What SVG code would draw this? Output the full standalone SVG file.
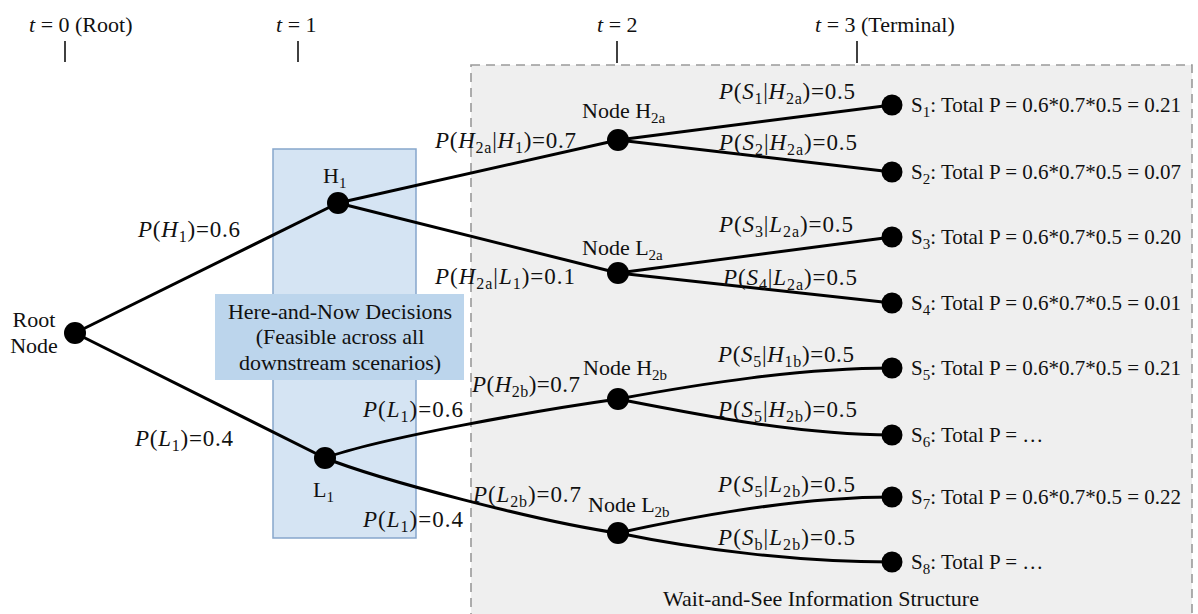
<svg xmlns="http://www.w3.org/2000/svg" width="1198" height="614" viewBox="0 0 1198 614">
<style>
.t{font-family:"Liberation Serif","Times New Roman",serif;fill:#111;font-size:22px}
.s21{font-size:21px}
.m{font-size:23px}
.i{font-style:italic}
.sub{font-size:15px}
.m .sub{font-size:16px}
.e{stroke:#000;stroke-width:3;fill:none}
.tick{stroke:#111;stroke-width:1.6}
.dot{fill:#000}
</style>
<rect width="1198" height="614" fill="#ffffff"/>
<g id="wait-and-see-region">
<rect x="471" y="65" width="721" height="570" fill="#efefef" stroke="#9a9a9a" stroke-width="1.6" stroke-dasharray="9 6"/>
<text class="t" x="663" y="606">Wait-and-See Information Structure</text>
</g>
<g id="here-and-now-column">
<rect x="273" y="149" width="143" height="389" fill="#d5e4f3" stroke="#86a6cc" stroke-width="1.5"/>
</g>
<g id="time-axis">
<text class="t" x="29" y="32"><tspan class="i">t</tspan> = 0 (Root)</text>
<text class="t" x="276" y="32"><tspan class="i">t</tspan> = 1</text>
<text class="t" x="597" y="32"><tspan class="i">t</tspan> = 2</text>
<text class="t" x="815" y="32"><tspan class="i">t</tspan> = 3 (Terminal)</text>
<line class="tick" x1="65" y1="41" x2="65" y2="62"/>
<line class="tick" x1="298" y1="41" x2="298" y2="62"/>
<line class="tick" x1="617" y1="41" x2="617" y2="63"/>
<line class="tick" x1="857" y1="41" x2="857" y2="63"/>
</g>
<g id="connectors">
<path class="e" d="M75 333 L338 203"/>
<path class="e" d="M75 333 L325 458"/>
<path class="e" d="M338 203 L618 140"/>
<path class="e" d="M338 203 L618 273"/>
<path class="e" d="M325 458 C380 438 540 410 618 399"/>
<path class="e" d="M325 458 C380 480 540 522 618 533"/>
<path class="e" d="M618 140 L892 105"/>
<path class="e" d="M618 140 L892 172"/>
<path class="e" d="M618 273 L892 237"/>
<path class="e" d="M618 273 L892 303"/>
<path class="e" d="M618 399 C700 384 800 368 892 368"/>
<path class="e" d="M618 399 C700 415 800 435 892 435"/>
<path class="e" d="M618 533 C700 515 800 497 892 497"/>
<path class="e" d="M618 533 C700 550 800 562 892 562"/>
</g>
<g id="edge-labels">
<text class="t m" x="138" y="237" textLength="102" lengthAdjust="spacing"><tspan class="i">P</tspan>(<tspan class="i">H</tspan><tspan class="sub" dy="5">1</tspan><tspan dy="-5">)=0.6</tspan></text>
<text class="t m" x="135" y="446" textLength="98" lengthAdjust="spacing"><tspan class="i">P</tspan>(<tspan class="i">L</tspan><tspan class="sub" dy="5">1</tspan><tspan dy="-5">)=0.4</tspan></text>
<text class="t m" x="435" y="148" textLength="141" lengthAdjust="spacing"><tspan class="i">P</tspan>(<tspan class="i">H</tspan><tspan class="sub" dy="5">2a</tspan><tspan dy="-5">|</tspan><tspan class="i">H</tspan><tspan class="sub" dy="5">1</tspan><tspan dy="-5">)=0.7</tspan></text>
<text class="t m" x="435" y="284" textLength="140" lengthAdjust="spacing"><tspan class="i">P</tspan>(<tspan class="i">H</tspan><tspan class="sub" dy="5">2a</tspan><tspan dy="-5">|</tspan><tspan class="i">L</tspan><tspan class="sub" dy="5">1</tspan><tspan dy="-5">)=0.1</tspan></text>
<text class="t m" x="719" y="99" textLength="136" lengthAdjust="spacing"><tspan class="i">P</tspan>(<tspan class="i">S</tspan><tspan class="sub" dy="5">1</tspan><tspan dy="-5">|</tspan><tspan class="i">H</tspan><tspan class="sub" dy="5">2a</tspan><tspan dy="-5">)=0.5</tspan></text>
<text class="t m" x="719" y="150" textLength="138" lengthAdjust="spacing"><tspan class="i">P</tspan>(<tspan class="i">S</tspan><tspan class="sub" dy="5">2</tspan><tspan dy="-5">|</tspan><tspan class="i">H</tspan><tspan class="sub" dy="5">2a</tspan><tspan dy="-5">)=0.5</tspan></text>
<text class="t m" x="719" y="232" textLength="134" lengthAdjust="spacing"><tspan class="i">P</tspan>(<tspan class="i">S</tspan><tspan class="sub" dy="5">3</tspan><tspan dy="-5">|</tspan><tspan class="i">L</tspan><tspan class="sub" dy="5">2a</tspan><tspan dy="-5">)=0.5</tspan></text>
<text class="t m" x="723" y="285" textLength="134" lengthAdjust="spacing"><tspan class="i">P</tspan>(<tspan class="i">S</tspan><tspan class="sub" dy="5">4</tspan><tspan dy="-5">|</tspan><tspan class="i">L</tspan><tspan class="sub" dy="5">2a</tspan><tspan dy="-5">)=0.5</tspan></text>
<text class="t m" x="472" y="392" textLength="108" lengthAdjust="spacing"><tspan class="i">P</tspan>(<tspan class="i">H</tspan><tspan class="sub" dy="5">2b</tspan><tspan dy="-5">)=0.7</tspan></text>
<text class="t m" x="363" y="417" textLength="100" lengthAdjust="spacing"><tspan class="i">P</tspan>(<tspan class="i">L</tspan><tspan class="sub" dy="5">1</tspan><tspan dy="-5">)=0.6</tspan></text>
<text class="t m" x="363" y="527" textLength="100" lengthAdjust="spacing"><tspan class="i">P</tspan>(<tspan class="i">L</tspan><tspan class="sub" dy="5">1</tspan><tspan dy="-5">)=0.4</tspan></text>
<text class="t m" x="473" y="502" textLength="108" lengthAdjust="spacing"><tspan class="i">P</tspan>(<tspan class="i">L</tspan><tspan class="sub" dy="5">2b</tspan><tspan dy="-5">)=0.7</tspan></text>
<text class="t m" x="718" y="362" textLength="136" lengthAdjust="spacing"><tspan class="i">P</tspan>(<tspan class="i">S</tspan><tspan class="sub" dy="5">5</tspan><tspan dy="-5">|</tspan><tspan class="i">H</tspan><tspan class="sub" dy="5">1b</tspan><tspan dy="-5">)=0.5</tspan></text>
<text class="t m" x="718" y="417" textLength="139" lengthAdjust="spacing"><tspan class="i">P</tspan>(<tspan class="i">S</tspan><tspan class="sub" dy="5">5</tspan><tspan dy="-5">|</tspan><tspan class="i">H</tspan><tspan class="sub" dy="5">2b</tspan><tspan dy="-5">)=0.5</tspan></text>
<text class="t m" x="718" y="492" textLength="137" lengthAdjust="spacing"><tspan class="i">P</tspan>(<tspan class="i">S</tspan><tspan class="sub" dy="5">5</tspan><tspan dy="-5">|</tspan><tspan class="i">L</tspan><tspan class="sub" dy="5">2b</tspan><tspan dy="-5">)=0.5</tspan></text>
<text class="t m" x="718" y="545" textLength="137" lengthAdjust="spacing"><tspan class="i">P</tspan>(<tspan class="i">S</tspan><tspan class="sub" dy="5">b</tspan><tspan dy="-5">|</tspan><tspan class="i">L</tspan><tspan class="sub" dy="5">2b</tspan><tspan dy="-5">)=0.5</tspan></text>
</g>
<g id="here-and-now-label">
<rect x="215" y="294" width="249" height="86" fill="#bcd5ec"/>
<text class="t" x="340" y="319" text-anchor="middle" fill="#222">Here-and-Now Decisions</text>
<text class="t" x="340" y="344" text-anchor="middle" fill="#222">(Feasible across all</text>
<text class="t" x="340" y="370" text-anchor="middle" fill="#222">downstream scenarios)</text>
</g>
<g id="node-root">
<circle class="dot" cx="75" cy="333" r="11"/>
<text class="t" x="34" y="327" text-anchor="middle">Root</text>
<text class="t" x="34" y="353" text-anchor="middle">Node</text>
</g>
<g id="node-H1">
<circle class="dot" cx="338" cy="203" r="11"/>
<text class="t" x="323" y="183">H<tspan class="sub" dy="5">1</tspan></text>
</g>
<g id="node-L1">
<circle class="dot" cx="325" cy="458" r="11"/>
<text class="t" x="313" y="497">L<tspan class="sub" dy="5">1</tspan></text>
</g>
<g id="node-H2a">
<circle class="dot" cx="618" cy="140" r="11"/>
<text class="t" x="582" y="118">Node H<tspan class="sub" dy="5">2a</tspan></text>
</g>
<g id="node-L2a">
<circle class="dot" cx="618" cy="273" r="11"/>
<text class="t" x="582" y="255">Node L<tspan class="sub" dy="5">2a</tspan></text>
</g>
<g id="node-H2b">
<circle class="dot" cx="618" cy="399" r="11"/>
<text class="t" x="583" y="375">Node H<tspan class="sub" dy="5">2b</tspan></text>
</g>
<g id="node-L2b">
<circle class="dot" cx="618" cy="533" r="11"/>
<text class="t" x="588" y="512">Node L<tspan class="sub" dy="5">2b</tspan></text>
</g>
<g id="node-S1">
<circle class="dot" cx="892" cy="105" r="10.5"/>
<text class="t s21" x="911" y="112">S<tspan class="sub" dy="5">1</tspan><tspan dy="-5">: Total P = 0.6*0.7*0.5 = 0.21</tspan></text>
</g>
<g id="node-S2">
<circle class="dot" cx="892" cy="172" r="10.5"/>
<text class="t s21" x="911" y="179">S<tspan class="sub" dy="5">2</tspan><tspan dy="-5">: Total P = 0.6*0.7*0.5 = 0.07</tspan></text>
</g>
<g id="node-S3">
<circle class="dot" cx="892" cy="237" r="10.5"/>
<text class="t s21" x="911" y="244">S<tspan class="sub" dy="5">3</tspan><tspan dy="-5">: Total P = 0.6*0.7*0.5 = 0.20</tspan></text>
</g>
<g id="node-S4">
<circle class="dot" cx="892" cy="303" r="10.5"/>
<text class="t s21" x="911" y="310">S<tspan class="sub" dy="5">4</tspan><tspan dy="-5">: Total P = 0.6*0.7*0.5 = 0.01</tspan></text>
</g>
<g id="node-S5">
<circle class="dot" cx="892" cy="368" r="10.5"/>
<text class="t s21" x="911" y="375">S<tspan class="sub" dy="5">5</tspan><tspan dy="-5">: Total P = 0.6*0.7*0.5 = 0.21</tspan></text>
</g>
<g id="node-S6">
<circle class="dot" cx="892" cy="435" r="10.5"/>
<text class="t s21" x="911" y="442">S<tspan class="sub" dy="5">6</tspan><tspan dy="-5">: Total P = …</tspan></text>
</g>
<g id="node-S7">
<circle class="dot" cx="892" cy="497" r="10.5"/>
<text class="t s21" x="911" y="504">S<tspan class="sub" dy="5">7</tspan><tspan dy="-5">: Total P = 0.6*0.7*0.5 = 0.22</tspan></text>
</g>
<g id="node-S8">
<circle class="dot" cx="892" cy="562" r="10.5"/>
<text class="t s21" x="911" y="569">S<tspan class="sub" dy="5">8</tspan><tspan dy="-5">: Total P = …</tspan></text>
</g>
</svg>
